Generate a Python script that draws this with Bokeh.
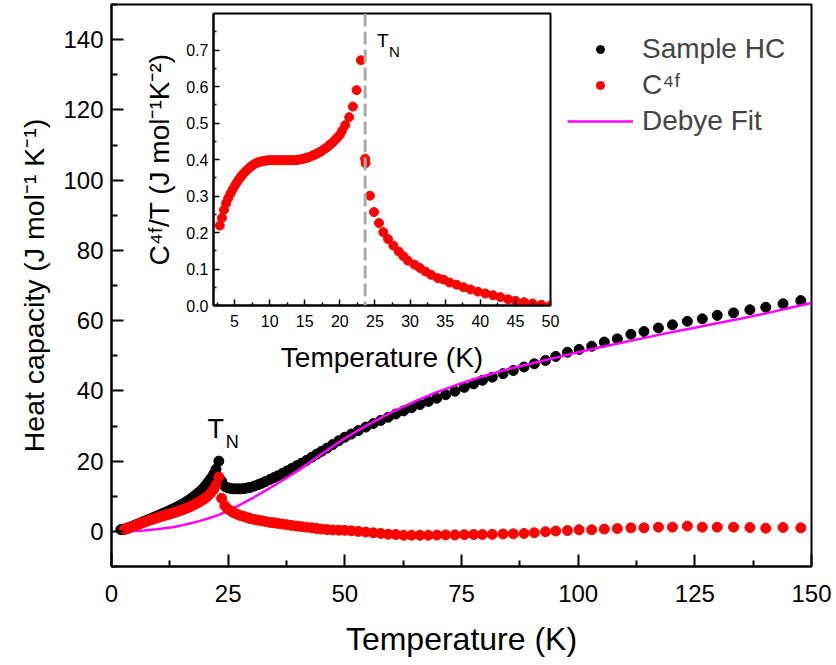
from bokeh.plotting import figure
from bokeh.models import Range1d, Legend, LegendItem, Label, Span, FixedTicker, NumeralTickFormatter
from bokeh.layouts import column
from bokeh.embed import file_html
from bokeh.resources import INLINE

FONT = "Liberation Sans"

# ---------------- data ----------------
t_sample = [2.0, 2.5, 3.0, 3.5, 4.0, 4.5, 5.0, 5.5, 6.0, 6.5,
            7.0, 7.5, 8.0, 8.5, 9.0, 9.5, 10.0, 10.5, 11.0, 11.5,
            12.0, 12.5, 13.0, 13.5, 14.0, 14.5, 15.0, 15.5, 16.0, 16.5,
            17.0, 17.5, 18.0, 18.5, 19.0, 19.5, 20.0,
            20.3, 20.8, 21.3, 21.9, 22.4, 23.0,
            23.6, 24.3, 24.9, 25.6, 26.2, 26.9, 27.6, 28.4, 29.1, 29.7,
            30.6, 31.4, 32.2, 33.0, 34.0, 34.8, 35.6, 36.6, 37.6, 38.6,
            39.7, 40.7, 41.8, 42.9, 44.0, 45.0, 46.2, 47.4, 48.7, 50.0,
            51.4, 52.9, 54.5, 56.1, 57.7, 59.3, 60.9, 62.6, 64.3, 66.1,
            67.9, 69.7, 71.6, 73.6, 75.6, 77.6, 79.5, 81.6, 83.9, 86.1,
            88.4, 90.6, 93.0,
            95.2, 97.7, 100.2, 102.9, 105.6, 108.4, 111.3, 114.1, 117.2, 120.2,
            123.4, 126.6, 129.8, 133.3, 136.8, 140.2, 143.9, 147.7]
c_sample = [0.5, 0.55, 0.7, 0.95, 1.2, 1.45, 1.75, 2.0, 2.3, 2.55,
            2.85, 3.1, 3.4, 3.65, 3.95, 4.2, 4.5, 4.8, 5.1, 5.35,
            5.65, 5.95, 6.3, 6.6, 6.95, 7.25, 7.6, 8.0, 8.4, 8.85,
            9.3, 9.8, 10.3, 10.85, 11.4, 12.05, 12.8,
            13.3, 14.2, 15.1, 16.3, 17.7, 20.0,
            14.3, 12.8, 12.4, 12.2, 12.1, 12.1, 12.1, 12.2, 12.35, 12.5,
            12.9, 13.3, 13.7, 14.2, 14.8, 15.3, 15.8, 16.5, 17.2, 17.9,
            18.7, 19.4, 20.2, 21.1, 22.0, 22.8, 23.7, 24.7, 25.8, 26.8,
            27.7, 28.7, 29.7, 30.7, 31.6, 32.5, 33.4, 34.3, 35.2, 36.1,
            37.0, 37.9, 38.9, 39.9, 41.0, 42.0, 43.0, 43.9, 44.9, 45.8,
            46.8, 47.7, 48.65,
            49.8, 51.0, 51.8, 52.7, 53.9, 54.8, 56.1, 56.9, 57.9, 58.8,
            59.8, 60.5, 61.5, 62.2, 63.1, 63.8, 64.8, 65.7]

t_4f = [2.8, 3.0, 3.5, 4.0, 4.5, 5.0, 5.5, 6.0, 6.5, 7.0,
        7.5, 8.0, 8.5, 9.0, 9.5, 10.0, 10.5, 11.0, 11.5, 12.0,
        12.5, 13.0, 13.5, 14.0, 14.5, 15.0, 15.5, 16.0, 16.5, 17.0,
        17.5, 18.0, 18.5, 19.0, 19.5, 20.0,
        20.3, 20.8, 21.3, 21.9, 22.4, 23.0,
        23.6, 24.3, 24.9, 25.6, 26.2, 26.9, 27.6, 28.4, 29.1, 29.7,
        30.6, 31.4, 32.2, 33.0, 34.0, 34.8, 35.6, 36.6, 37.6, 38.6,
        39.7, 40.7, 41.8, 42.9, 44.0, 45.0, 46.2, 47.4, 48.7, 50.0,
        51.4, 52.9, 54.5, 56.1, 57.7, 59.3, 60.9, 62.6, 64.3, 66.1,
        67.9, 69.7, 71.6, 73.6, 75.6, 77.6, 79.5, 81.6, 83.9, 86.1,
        88.4, 90.6, 93.0,
        95.2, 97.7, 100.2, 102.9, 105.6, 108.4, 111.3, 114.1, 117.2, 120.2,
        123.4, 126.6, 129.8, 133.3, 136.8, 140.2, 143.9, 147.7]
c_4f = [0.60, 0.68, 0.92, 1.17, 1.39, 1.64, 1.89, 2.13, 2.38, 2.63,
        2.87, 3.11, 3.35, 3.56, 3.77, 3.98, 4.18, 4.38, 4.58, 4.78,
        4.98, 5.17, 5.37, 5.59, 5.81, 6.04, 6.29, 6.57, 6.82, 7.12,
        7.44, 7.79, 8.12, 8.51, 8.93, 9.36,
        9.70, 10.27, 10.99, 11.92, 13.2, 15.5,
        9.4, 7.3, 6.4, 5.8, 5.3, 4.9, 4.5, 4.2, 3.9, 3.65,
        3.4, 3.2, 3.0, 2.8, 2.55, 2.45, 2.25, 2.1, 1.9, 1.7,
        1.5, 1.35, 1.2, 1.0, 0.8, 0.65, 0.5, 0.4, 0.35, 0.3,
        0.15, 0.0, -0.2, -0.4, -0.6, -0.8, -0.9, -1.1, -1.1, -1.1,
        -1.1, -1.05, -1.0, -1.0, -0.95, -0.9, -0.9, -0.85, -0.75, -0.7,
        -0.6, -0.4, -0.1,
        0.1, 0.25, 0.45, 0.45, 0.65, 0.8, 1.0, 1.0, 1.2, 1.2,
        1.5, 1.2, 1.2, 1.2, 1.1, 0.9, 1.1, 1.0]

t_debye = [2.8, 5, 7, 9, 11, 13, 15, 17, 19, 21,
           23, 25, 27, 30, 33, 36, 40, 45, 50, 55,
           60, 65, 70, 75, 80, 85, 90, 95, 100, 105,
           110, 115, 120, 125, 130, 135, 140, 145, 150]
c_debye = [0.0, 0.1, 0.25, 0.5, 0.8, 1.2, 1.7, 2.3, 3.0, 3.8,
           4.7, 5.9, 7.2, 9.3, 11.6, 14.0, 17.3, 22.0, 26.5, 30.4,
           33.9, 37.0, 39.8, 42.2, 44.3, 46.2, 47.8, 49.4, 51.0, 52.5,
           53.9, 55.3, 56.7, 58.0, 59.3, 60.6, 62.0, 63.5, 65.0]

t_inset = [2.9, 3.2, 3.5, 3.8, 4.1, 4.4, 4.7, 5.0, 5.3, 5.6,
           5.9, 6.2, 6.5, 6.8, 7.1, 7.4, 7.7, 8.0, 8.3, 8.6,
           8.9, 9.2, 9.5, 9.8, 10.1, 10.4, 10.7, 11.0, 11.3, 11.6,
           11.9, 12.2, 12.5, 12.8, 13.1, 13.4, 13.7, 14.0, 14.3, 14.6,
           14.9, 15.2, 15.5, 15.8, 16.1, 16.4, 16.7, 17.0, 17.3, 17.6,
           17.9, 18.2, 18.5, 18.8, 19.1, 19.4, 19.7, 20.0,
           20.29, 20.76, 21.33, 21.86, 22.38, 23.0, 23.6, 23.66,
           24.29, 24.86, 25.57, 26.19, 26.86, 27.62, 28.38, 29.05, 29.67, 30.62,
           31.38, 32.19, 33.0, 33.95, 34.76, 35.62, 36.62, 37.62, 38.62, 39.67,
           40.71, 41.81, 42.86, 43.95, 45.0, 46.24, 47.43, 48.71, 50.0]
c4f_over_t = [0.219, 0.240, 0.262, 0.280, 0.294, 0.306, 0.317, 0.327, 0.336, 0.345,
              0.353, 0.360, 0.366, 0.372, 0.377, 0.382, 0.386, 0.389, 0.392, 0.394,
              0.395, 0.396, 0.397, 0.398, 0.398, 0.398, 0.398, 0.398, 0.398, 0.398,
              0.398, 0.398, 0.398, 0.398, 0.398, 0.398, 0.398, 0.399, 0.400, 0.401,
              0.403, 0.404, 0.406, 0.408, 0.411, 0.413, 0.416, 0.419, 0.422, 0.426,
              0.430, 0.434, 0.439, 0.444, 0.449, 0.455, 0.461, 0.468,
              0.478, 0.494, 0.516, 0.545, 0.590, 0.672, 0.402, 0.390,
              0.301, 0.256, 0.226, 0.201, 0.182, 0.164, 0.148, 0.135, 0.123, 0.112,
              0.103, 0.093, 0.084, 0.075, 0.071, 0.063, 0.057, 0.050, 0.044, 0.038,
              0.033, 0.028, 0.023, 0.017, 0.013, 0.009, 0.0055, 0.002, 0.0]

t_neel = 23.6

x_ticks_main = [0, 25, 50, 75, 100, 125, 150]
x_minor_main = [12.5, 37.5, 62.5, 87.5, 112.5, 137.5]
y_ticks_main = [0, 20, 40, 60, 80, 100, 120, 140]
y_minor_main = [-10, 10, 30, 50, 70, 90, 110, 130, 150]
x_ticks_inset = [5, 10, 15, 20, 25, 30, 35, 40, 45, 50]
x_minor_inset = [2.5, 7.5, 12.5, 17.5, 22.5, 27.5, 32.5, 37.5, 42.5, 47.5]
y_ticks_inset = [0.0, 0.1, 0.2, 0.3, 0.4, 0.5, 0.6, 0.7]
y_minor_inset = [0.05, 0.15, 0.25, 0.35, 0.45, 0.55, 0.65, 0.75]

RED = "#ff0000"
MAGENTA = "#ff00ff"

# ---------------- main figure ----------------
p = figure(width=836, height=665, x_range=Range1d(0, 150), y_range=Range1d(-10, 150),
           output_backend="svg", toolbar_location=None,
           min_border_left=111, min_border_right=25, min_border_top=4, min_border_bottom=99)
p.grid.visible = False
p.outline_line_color = "black"
p.outline_line_width = 2
p.background_fill_color = "white"
p.border_fill_color = "white"

r_black = p.scatter(t_sample, c_sample, size=10, color="black")
r_line = p.line(t_debye, c_debye, line_color=MAGENTA, line_width=2.5)
r_red = p.scatter(t_4f, c_4f, size=10, color=RED)

p.xaxis.ticker = FixedTicker(ticks=x_ticks_main, minor_ticks=x_minor_main)
p.yaxis.ticker = FixedTicker(ticks=y_ticks_main, minor_ticks=y_minor_main)
p.xaxis.axis_label = "Temperature (K)"
p.yaxis.axis_label = "Heat capacity (J mol\u207b\u00b9 K\u207b\u00b9)"
for ax in (p.xaxis[0], p.yaxis[0]):
    ax.axis_line_width = 2
    ax.major_tick_line_width = 2
    ax.minor_tick_line_width = 2
    ax.major_tick_in = 12
    ax.major_tick_out = 0
    ax.minor_tick_in = 6
    ax.minor_tick_out = 0
    ax.major_label_text_font = FONT
    ax.major_label_text_font_size = "24px"
    ax.major_label_text_color = "black"
    ax.axis_label_text_font = FONT
    ax.axis_label_text_font_style = "normal"
    ax.axis_label_text_color = "black"
p.xaxis.major_label_standoff = 18
p.xaxis.axis_label_text_font_size = "32px"
p.xaxis.axis_label_standoff = 16
p.yaxis.major_label_standoff = 8
p.yaxis.axis_label_text_font_size = "28.5px"
p.yaxis.axis_label_standoff = 10

legend = Legend(items=[LegendItem(label="Sample HC", renderers=[r_black]),
                       LegendItem(label="C\u2074\u1da0", renderers=[r_red]),
                       LegendItem(label="Debye Fit", renderers=[r_line])],
                location=(456, 427), padding=0, margin=0, spacing=0,
                glyph_width=66, glyph_height=20, label_height=36, label_standoff=9,
                label_text_font=FONT, label_text_font_size="28px",
                border_line_color=None, background_fill_alpha=0)
p.add_layout(legend)

p.add_layout(Label(x=20.57, y=29.1, text="T", text_font=FONT, text_font_size="27px",
                   text_baseline="alphabetic", text_color="black"))
p.add_layout(Label(x=24.5, y=25.4, text="N", text_font=FONT, text_font_size="18px",
                   text_baseline="alphabetic", text_color="black"))

# ---------------- inset ----------------
# borders are aligned with the main figure's (111 left, 25 right) by the column layout
ins = figure(width=473, height=372, x_range=Range1d(2, 50), y_range=Range1d(0, 0.8),
             output_backend="svg", toolbar_location=None,
             min_border_left=111, min_border_right=25, min_border_top=5, min_border_bottom=75)
ins.grid.visible = False
ins.outline_line_color = "black"
ins.outline_line_width = 2
ins.background_fill_color = "white"
ins.border_fill_alpha = 0
ins.add_layout(Span(location=t_neel, dimension="height", line_color="#aaaaaa",
                    line_width=3, line_dash="13 5"))
ins.scatter(t_inset, c4f_over_t, size=9, color=RED)
ins.xaxis.ticker = FixedTicker(ticks=x_ticks_inset, minor_ticks=x_minor_inset)
ins.yaxis.ticker = FixedTicker(ticks=y_ticks_inset, minor_ticks=y_minor_inset)
ins.yaxis.formatter = NumeralTickFormatter(format="0.0")
ins.xaxis.axis_label = "Temperature (K)"
ins.yaxis.axis_label = "C\u2074\u1da0/T (J mol\u207b\u00b9K\u207b\u00b2)"
for ax in (ins.xaxis[0], ins.yaxis[0]):
    ax.axis_line_width = 2
    ax.major_tick_line_width = 1.5
    ax.minor_tick_line_width = 1.5
    ax.major_tick_in = 6
    ax.major_tick_out = 0
    ax.minor_tick_in = 3
    ax.minor_tick_out = 0
    ax.major_label_text_font = FONT
    ax.major_label_text_font_size = "16px"
    ax.major_label_text_color = "black"
    ax.axis_label_text_font = FONT
    ax.axis_label_text_font_style = "normal"
    ax.axis_label_text_color = "black"
    ax.axis_label_text_font_size = "28px"
ins.xaxis.major_label_standoff = 9
ins.xaxis.axis_label_standoff = 12
ins.yaxis.major_label_standoff = 5
ins.yaxis.axis_label_standoff = 8

ins.add_layout(Label(x=25.28, y=0.725, text="T", text_font=FONT, text_font_size="19px",
                     text_baseline="alphabetic", text_color="black"))
ins.add_layout(Label(x=27.0, y=0.697, text="N", text_font=FONT, text_font_size="15px",
                     text_baseline="alphabetic", text_color="black"))

ins.margin = (8 - 665, 0, 0, 102)
layout = column(p, ins)

open("out.html", "w").write(file_html(layout, INLINE))
